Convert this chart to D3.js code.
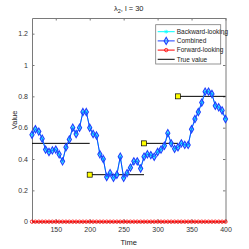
<!DOCTYPE html>
<html>
<head>
<meta charset="utf-8">
<script src="https://cdn.jsdelivr.net/npm/d3@7"></script>
<style>
  body { margin: 0; background: #fff; }
  text { font-family: "Liberation Sans", Arial, sans-serif; }
</style>
</head>
<body>
<div id="chart"></div>
<script>
// Data
var times = d3.range(115, 401, 5);
var combined = [0.555, 0.59, 0.575, 0.53, 0.46, 0.445, 0.455, 0.46, 0.43, 0.385,
                0.475, 0.525, 0.60, 0.56, 0.60, 0.70, 0.70, 0.60, 0.56, 0.55,
                0.43, 0.40, 0.285, 0.31, 0.28, 0.30, 0.415, 0.28, 0.31, 0.345,
                0.385, 0.385, 0.34, 0.415, 0.43, 0.425, 0.415, 0.445, 0.46, 0.485,
                0.565, 0.50, 0.465, 0.475, 0.50, 0.49, 0.49, 0.59, 0.655, 0.70,
                0.76, 0.83, 0.83, 0.815, 0.74, 0.73, 0.71, 0.655];
var backward = combined.slice();
var forward = times.map(function() { return 0; });
var segStart = [115, 200, 280, 330];
var segEnd = [200, 280, 330, 400];
var segValue = [0.5, 0.3, 0.5, 0.8];
var changeTimes = [200, 280, 330];
var changeValues = [0.3, 0.5, 0.8];
var xTicks = [150, 200, 250, 300, 350, 400];
var yTicks = [0, 0.2, 0.4, 0.6, 0.8, 1, 1.2];
var legendLabels = ["Backward-looking", "Combined", "Forward-looking", "True value"];

var margin = {top: 18, right: 23.5, bottom: 27.3, left: 32},
    width = 249 - margin.left - margin.right,
    height = 249 - margin.top - margin.bottom;

var x = d3.scaleLinear().domain([115, 400]).range([0, width]);
var y = d3.scaleLinear().domain([0, 1.3]).range([height, 0]);

var svg = d3.select("#chart").append("svg")
    .attr("width", 249)
    .attr("height", 249)
  .append("g")
    .attr("transform", "translate(" + margin.left + "," + margin.top + ")");

var axisColor = "#7a7a7a";

// Axes (box with inward ticks)
function styleAxis(g) {
  g.select(".domain").attr("stroke", axisColor);
  g.selectAll(".tick line").attr("stroke", axisColor);
  g.selectAll(".tick text").attr("fill", "#333").style("font-size", "7px");
}
svg.append("g")
    .attr("transform", "translate(0," + height + ")")
    .call(d3.axisBottom(x).tickValues(xTicks).tickSizeInner(-2.5).tickSizeOuter(0).tickPadding(5))
    .call(styleAxis);
svg.append("g")
    .call(d3.axisTop(x).tickValues(xTicks).tickSizeInner(-2.5).tickSizeOuter(0).tickFormat(""))
    .call(styleAxis);
svg.append("g")
    .call(d3.axisLeft(y).tickValues(yTicks).tickSizeInner(-2.5).tickSizeOuter(0).tickPadding(4)
      .tickFormat(function(d) { return d === 0 || d === 1 ? d : d3.format(".1f")(d); }))
    .call(styleAxis);
svg.append("g")
    .attr("transform", "translate(" + width + ",0)")
    .call(d3.axisRight(y).tickValues(yTicks).tickSizeInner(-2.5).tickSizeOuter(0).tickFormat(""))
    .call(styleAxis);

// True value segments
svg.selectAll(".seg")
    .data(segValue)
  .enter().append("line")
    .attr("x1", function(d, i) { return x(segStart[i]); })
    .attr("x2", function(d, i) { return x(segEnd[i]); })
    .attr("y1", function(d) { return y(d); })
    .attr("y2", function(d) { return y(d); })
    .attr("stroke", "#000")
    .attr("stroke-width", 1);

var line = d3.line()
    .x(function(d, i) { return x(times[i]); })
    .y(function(d) { return y(d); });

// Backward-looking (cyan, asterisk)
svg.append("path").datum(backward)
    .attr("d", line).attr("fill", "none").attr("stroke", "cyan").attr("stroke-width", 1);
svg.selectAll(".bw")
    .data(backward)
  .enter().append("path")
    .attr("transform", function(d, i) { return "translate(" + x(times[i]) + "," + y(d) + ")"; })
    .attr("d", d3.symbol().type(d3.symbolAsterisk).size(10))
    .attr("fill", "none").attr("stroke", "cyan").attr("stroke-width", 0.8);

// Combined (blue, hollow diamonds)
svg.append("path").datum(combined)
    .attr("d", line).attr("fill", "none").attr("stroke", "#1f3fff").attr("stroke-width", 1);
svg.selectAll(".cb")
    .data(combined)
  .enter().append("path")
    .attr("transform", function(d, i) { return "translate(" + x(times[i]) + "," + y(d) + ")"; })
    .attr("d", d3.symbol().type(d3.symbolDiamond).size(15))
    .attr("fill", "rgba(0,200,255,0.35)").attr("stroke", "#1f3fff").attr("stroke-width", 1.1);

// Forward-looking (red, hollow circles)
svg.append("path").datum(forward)
    .attr("d", line).attr("fill", "none").attr("stroke", "red").attr("stroke-width", 1);
svg.selectAll(".fw")
    .data(forward)
  .enter().append("circle")
    .attr("cx", function(d, i) { return x(times[i]); })
    .attr("cy", function(d) { return y(d); })
    .attr("r", 1.7)
    .attr("fill", "none").attr("stroke", "red").attr("stroke-width", 0.8);

// Change points
svg.selectAll(".chg")
    .data(changeValues)
  .enter().append("rect")
    .attr("x", function(d, i) { return x(changeTimes[i]) - 2.5; })
    .attr("y", function(d) { return y(d) - 2.5; })
    .attr("width", 5).attr("height", 5)
    .attr("fill", "#ffff00").attr("stroke", "#000").attr("stroke-width", 0.7);

// Title and labels
var title = svg.append("text")
    .attr("x", width / 2).attr("y", -7.5)
    .attr("text-anchor", "middle")
    .style("font-size", "7.5px").attr("fill", "#222");
title.append("tspan").text("λ");
title.append("tspan").attr("dy", 2).style("font-size", "5.5px").text("2");
title.append("tspan").attr("dy", -2).text(", l = 30");

svg.append("text")
    .attr("x", width / 2).attr("y", height + 23)
    .attr("text-anchor", "middle")
    .style("font-size", "7.5px").attr("fill", "#222")
    .text("Time");

svg.append("text")
    .attr("transform", "translate(-15," + (height / 2) + ") rotate(-90)")
    .attr("text-anchor", "middle")
    .style("font-size", "7.5px").attr("fill", "#222")
    .text("Value");

// Legend
var lg = svg.append("g").attr("transform", "translate(" + (155.7 - margin.left) + "," + (24.7 - margin.top) + ")");
lg.append("rect")
    .attr("width", 65).attr("height", 39.3)
    .attr("fill", "#fff").attr("stroke", axisColor).attr("stroke-width", 0.8);
var legColors = ["cyan", "#1f3fff", "red", "#000"];
legendLabels.forEach(function(label, i) {
  var ly = 7 + i * 9.2;
  lg.append("line").attr("x1", 2).attr("x2", 19).attr("y1", ly).attr("y2", ly)
    .attr("stroke", legColors[i]).attr("stroke-width", 1);
  if (i === 0) {
    lg.append("path").attr("transform", "translate(10.5," + ly + ")")
      .attr("d", d3.symbol().type(d3.symbolAsterisk).size(10))
      .attr("fill", "none").attr("stroke", "cyan").attr("stroke-width", 0.8);
  } else if (i === 1) {
    lg.append("path").attr("transform", "translate(10.5," + ly + ")")
      .attr("d", d3.symbol().type(d3.symbolDiamond).size(15))
      .attr("fill", "rgba(0,200,255,0.35)").attr("stroke", "#1f3fff").attr("stroke-width", 1.1);
  } else if (i === 2) {
    lg.append("circle").attr("cx", 10.5).attr("cy", ly).attr("r", 1.7)
      .attr("fill", "none").attr("stroke", "red").attr("stroke-width", 0.8);
  }
  lg.append("text").attr("x", 21).attr("y", ly + 2.3)
    .style("font-size", "6.5px").attr("fill", "#222")
    .text(label);
});
</script>
</body>
</html>
